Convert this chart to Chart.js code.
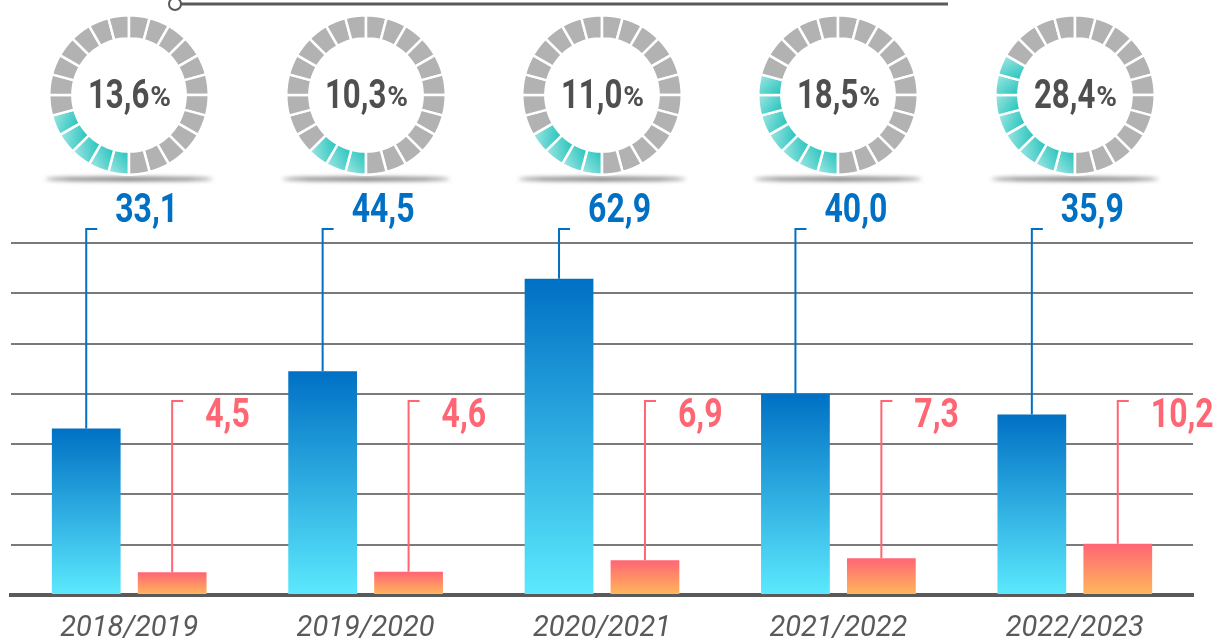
<!DOCTYPE html>
<html>
<head>
<meta charset="utf-8">
<script src="https://cdn.jsdelivr.net/npm/chart.js@4/dist/chart.umd.min.js"></script>
<style>
  body { margin: 0; background: #fff; }
  #wrap { position: relative; width: 1214px; height: 638px; overflow: hidden; }
  .donut { position: absolute; }
</style>
</head>
<body>
<div id="wrap">
  <canvas id="main" width="1214" height="638" style="width:1214px;height:638px"></canvas>
</div>
<script>
//------------------------ DATA ----------------------------

const categories = ["2018/2019", "2019/2020", "2020/2021", "2021/2022", "2022/2023"];
const blueValues = [33.1, 44.5, 62.9, 40.0, 35.9];
const redValues = [4.5, 4.6, 6.9, 7.3, 10.2];
const pctLabels = ["13,6", "10,3", "11,0", "18,5", "28,4"];
const tealSegments = [5, 3, 4, 7, 8];
const ringSegments = 24;
const yMax = 70;
const yStep = 10;

//------------------------ HELPERS ----------------------------

function fmt(v) {
  return v.toFixed(1).replace(".", ",");
}

// condensed bold text (no condensed face installed, so squeeze it)
function squeezedText(ctx, str, x, y, size, sx) {
  ctx.save();
  ctx.font = "bold " + size + "px Roboto";
  ctx.translate(x, y);
  ctx.scale(sx, 1);
  ctx.fillText(str, 0, 0);
  ctx.restore();
}

// vertical gradient for each bar, from its top down to the baseline
function barGradient(top, bottom) {
  return function (context) {
    const chart = context.chart;
    const area = chart.chartArea;
    if (!area) return top;
    const v = context.raw;
    const yTop = chart.scales.y.getPixelForValue(v);
    const g = chart.ctx.createLinearGradient(0, yTop, 0, area.bottom);
    g.addColorStop(0, top);
    g.addColorStop(1, bottom);
    return g;
  };
}

// leader lines + value labels
const labelStyles = [
  { color: "#0070c4", lineTop: -14, textY: -21, textX: 29 },
  { color: "#ff6673", lineTop: 158, textY: 184, textX: 33 },
];

const valueLabels = {
  id: "valueLabels",
  afterDatasetsDraw(chart) {
    const ctx = chart.ctx;
    const top = chart.chartArea.top;
    chart.data.datasets.forEach((ds, di) => {
      const st = labelStyles[di];
      const meta = chart.getDatasetMeta(di);
      meta.data.forEach((bar, i) => {
        const yl = top + st.lineTop;
        ctx.save();
        ctx.strokeStyle = st.color;
        ctx.lineWidth = 2;
        ctx.beginPath();
        ctx.moveTo(bar.x, bar.y);
        ctx.lineTo(bar.x, yl);
        ctx.lineTo(bar.x + 11, yl);
        ctx.stroke();
        ctx.fillStyle = st.color;
        ctx.textBaseline = "alphabetic";
        ctx.textAlign = "left";
        squeezedText(ctx, fmt(ds.data[i]), bar.x + st.textX, top + st.textY, 40, 0.8);
        ctx.restore();
      });
    });
  },
};

// the thin line with a knob across the top
const topRule = {
  id: "topRule",
  afterDraw(chart) {
    const ctx = chart.ctx;
    ctx.save();
    ctx.strokeStyle = "#5a5a5a";
    ctx.lineWidth = 3;
    ctx.beginPath();
    ctx.moveTo(181, 4);
    ctx.lineTo(948, 4);
    ctx.stroke();
    ctx.lineWidth = 2;
    ctx.fillStyle = "#fff";
    ctx.beginPath();
    ctx.arc(175, 4, 6, 0, Math.PI * 2);
    ctx.fill();
    ctx.stroke();
    ctx.restore();
  },
};

//------------------------ MAIN BAR CHART ----------------------------

const mainChart = new Chart(document.getElementById("main"), {
  type: "bar",
  data: {
    labels: categories,
    datasets: [
      {
        data: blueValues,
        backgroundColor: barGradient("#0070c4", "#5ce9fd"),
        barPercentage: 0.8,
        categoryPercentage: 0.727,
      },
      {
        data: redValues,
        backgroundColor: barGradient("#ff6575", "#ffb85a"),
        barPercentage: 0.8,
        categoryPercentage: 0.727,
      },
    ],
  },
  options: {
    responsive: false,
    animation: false,
    layout: { padding: { top: 243, left: 11, right: 21, bottom: 0 } },
    plugins: {
      legend: { display: false },
      tooltip: { enabled: false },
    },
    scales: {
      x: {
        grid: { display: false, drawTicks: false },
        border: { display: true, color: "#5a5a5a", width: 4 },
        ticks: {
          color: "#5a5a5a",
          padding: 16,
          font: { family: "Roboto", size: 29, style: "italic" },
        },
        afterFit: (axis) => {
          axis.height = 43;
        },
      },
      y: {
        min: 0,
        max: yMax,
        ticks: { display: false, stepSize: yStep },
        grid: { color: "#7a7a7a", lineWidth: 2, drawTicks: false },
        border: { display: false },
        afterFit: (axis) => {
          axis.width = 0;
        },
      },
    },
  },
  plugins: [valueLabels, topRule],
});

//------------------------ DONUTS ----------------------------

const donutShadow = {
  id: "donutShadow",
  beforeDraw(chart) {
    const ctx = chart.ctx;
    ctx.save();
    ctx.filter = "blur(2px)";
    ctx.fillStyle = "rgba(70,70,70,0.8)";
    ctx.beginPath();
    ctx.ellipse(100, 166, 84, 2, 0, 0, Math.PI * 2);
    ctx.fill();
    ctx.restore();
  },
};

const donutText = {
  id: "donutText",
  afterDraw(chart) {
    const ctx = chart.ctx;
    const main = chart.options.plugins.donutText.text;
    const sx = 0.78;
    ctx.save();
    ctx.fillStyle = "#4f4f4f";
    ctx.textBaseline = "alphabetic";
    ctx.font = "bold 40px Roboto";
    const w1 = ctx.measureText(main).width * sx;
    ctx.font = "bold 28px Roboto";
    const w2 = ctx.measureText("%").width;
    const x0 = 100 - (w1 + w2) / 2;
    squeezedText(ctx, main, x0, 95, 40, sx);
    ctx.font = "bold 28px Roboto";
    ctx.fillText("%", x0 + w1 + 1, 93);
    ctx.restore();
  },
};

// teal segments shade from dark (start of arc) to light (end of arc)
function segmentColor(filled) {
  return function (context) {
    const k = context.dataIndex;
    if (k >= filled) return "#b2b2b2";
    const area = context.chart.chartArea;
    if (!area) return "#5fd3ce";
    const cx = (area.left + area.right) / 2;
    const cy = (area.top + area.bottom) / 2;
    const r = Math.min(area.width, area.height) / 2;
    const step = (Math.PI * 2) / ringSegments;
    const a0 = Math.PI / 2 + k * step;
    const a1 = a0 + step;
    const g = context.chart.ctx.createLinearGradient(
      cx + Math.cos(a0) * r * 0.75, cy + Math.sin(a0) * r * 0.75,
      cx + Math.cos(a1) * r, cy + Math.sin(a1) * r
    );
    g.addColorStop(0, "#2fc6bf");
    g.addColorStop(1, "#a4e7e4");
    return g;
  };
}

const wrap = document.getElementById("wrap");

categories.forEach((cat, i) => {
  const cx = mainChart.scales.x.getPixelForValue(i);
  const canvas = document.createElement("canvas");
  canvas.className = "donut";
  canvas.width = 200;
  canvas.height = 180;
  canvas.style.width = "200px";
  canvas.style.height = "180px";
  canvas.style.left = cx - 100 + "px";
  canvas.style.top = "13px";
  wrap.appendChild(canvas);

  const segs = Array(ringSegments).fill(1);

  new Chart(canvas, {
    type: "doughnut",
    data: {
      datasets: [
        {
          data: segs,
          backgroundColor: segmentColor(tealSegments[i]),
          borderColor: "#ffffff",
          borderWidth: 2.5,
        },
      ],
    },
    options: {
      responsive: false,
      animation: false,
      rotation: 180,
      cutout: "71%",
      layout: { padding: { top: 1, bottom: 17, left: 19, right: 19 } },
      plugins: {
        legend: { display: false },
        tooltip: { enabled: false },
        donutText: { text: pctLabels[i] },
      },
    },
    plugins: [donutShadow, donutText],
  });
});
</script>
</body>
</html>
